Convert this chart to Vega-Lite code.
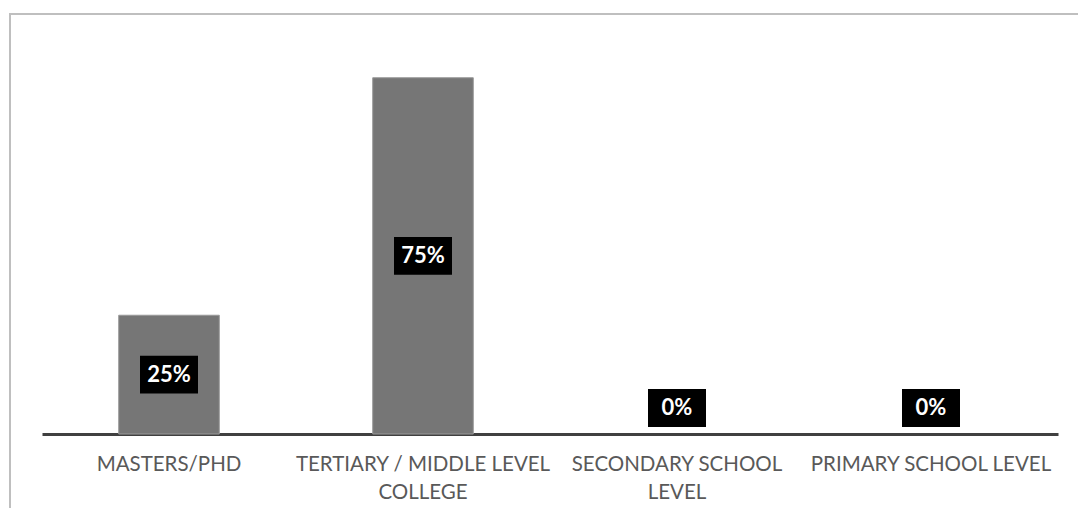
{
  "$schema": "https://vega.github.io/schema/vega-lite/v6.json",
  "width": 1080,
  "height": 500,
  "autosize": {"type": "none"},
  "padding": {"left": 10, "top": 14, "right": -12, "bottom": -6},
  "background": "white",
  "config": {
    "view": {"stroke": "#bfbfbf", "strokeWidth": 2},
    "font": "Lato"
  },
  "data": {
    "values": [
      {"level": "MASTERS/PHD", "share": 0.25},
      {"level": "TERTIARY / MIDDLE LEVEL COLLEGE", "share": 0.75},
      {"level": "SECONDARY SCHOOL LEVEL", "share": 0},
      {"level": "PRIMARY SCHOOL LEVEL", "share": 0}
    ]
  },
  "encoding": {
    "x": {
      "field": "level",
      "type": "nominal",
      "sort": null,
      "scale": {"range": [32, 1048], "paddingInner": 0.604, "paddingOuter": 0.302},
      "axis": {
        "title": null,
        "orient": "bottom",
        "offset": -80,
        "domainColor": "#404040",
        "domainWidth": 3,
        "ticks": false,
        "labelAngle": 0,
        "labelFont": "Lato",
        "labelFontSize": 20.5,
        "labelColor": "#595959",
        "labelPadding": 20,
        "labelLineHeight": 28,
        "labelBaseline": "top",
        "labelLimit": 0,
        "labelOverlap": false,
        "labelExpr": "datum.value == 'TERTIARY / MIDDLE LEVEL COLLEGE' ? ['TERTIARY / MIDDLE LEVEL', 'COLLEGE'] : datum.value == 'SECONDARY SCHOOL LEVEL' ? ['SECONDARY SCHOOL', 'LEVEL'] : datum.value"
      }
    }
  },
  "layer": [
    {
      "mark": {
        "type": "bar",
        "color": "#767676",
        "stroke": "#9a9a9a",
        "strokeWidth": 1,
        "strokeOpacity": {"expr": "datum.share > 0 ? 1 : 0"}
      },
      "encoding": {
        "y": {
          "field": "share",
          "type": "quantitative",
          "scale": {"domain": [0, 0.8842], "range": [420, 0], "nice": false},
          "axis": null
        }
      }
    },
    {
      "mark": {
        "type": "point",
        "shape": "M-1,-0.655L1,-0.655L1,0.655L-1,0.655Z",
        "size": 3364,
        "filled": true,
        "color": "black",
        "opacity": 1,
        "strokeWidth": 0,
        "yOffset": {"expr": "datum.share == 0 ? -26 : 0"}
      },
      "encoding": {
        "y": {
          "field": "share",
          "type": "quantitative",
          "scale": {"domain": [0, 1.7684], "range": [420, 0], "nice": false},
          "axis": null
        }
      }
    },
    {
      "mark": {
        "type": "text",
        "color": "white",
        "font": "Lato",
        "fontSize": 22,
        "fontWeight": "bold",
        "align": "center",
        "baseline": "middle",
        "yOffset": {"expr": "datum.share == 0 ? -26 : 0"}
      },
      "encoding": {
        "y": {
          "field": "share",
          "type": "quantitative",
          "scale": {"domain": [0, 1.7684], "range": [420, 0], "nice": false},
          "axis": null
        },
        "text": {"field": "share", "type": "quantitative", "format": ".0%"}
      }
    }
  ],
  "resolve": {"scale": {"y": "independent"}}
}
